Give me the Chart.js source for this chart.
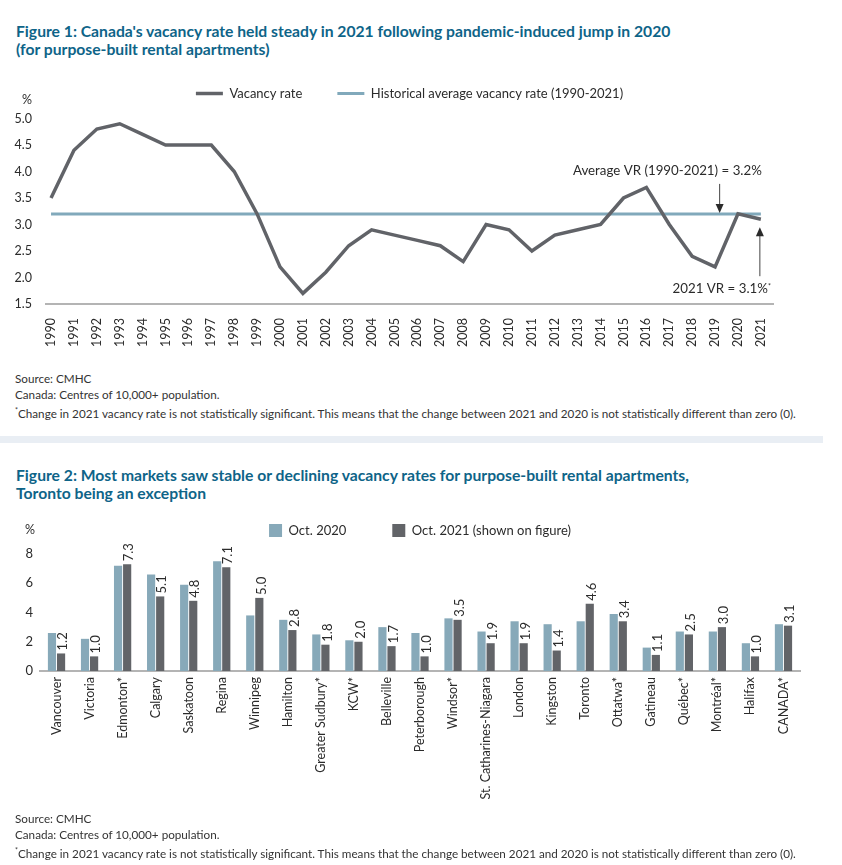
<!DOCTYPE html>
<html lang="en">

<head>
    <meta charset="UTF-8">
    <title>Vacancy rates</title>
    <script src="https://cdn.jsdelivr.net/npm/chart.js"></script>
    <style>
        body {
            margin: 0;
            width: 842px;
            height: 865px;
            position: relative;
            overflow: hidden;
            background: #fff;
            font-family: Lato, sans-serif;
            color: #333;
        }

        .title {
            position: absolute;
            left: 16px;
            margin: 0;
            color: #0e6488;
            font-size: 15.7px;
            font-weight: bold;
            line-height: 18px;
        }

        .notes {
            position: absolute;
            left: 15px;
            font-family: Lato, sans-serif;
            font-size: 11.7px;
            line-height: 16px;
            color: #333;
        }

        .notes sup {
            font-size: 7px;
        }

        .sep {
            position: absolute;
            left: 0;
            top: 436px;
            width: 823px;
            height: 7px;
            background: #e9eef4;
        }

        .box {
            position: absolute;
            left: 0;
            width: 842px;
        }
    </style>
</head>

<body>
    <h2 class="title" style="top: 22px;">Figure 1: Canada's vacancy rate held steady in 2021 following pandemic-induced jump in 2020<br>(for purpose-built rental apartments)</h2>
    <div class="box" style="top: 52px; height: 300px;"><canvas id="rateChart" width="842" height="300"></canvas></div>
    <div class="notes" style="top: 370px;">
        Source: CMHC<br>
        Canada: Centres of 10,000+ population.<br>
        <sup>*</sup>Change in 2021 vacancy rate is not statistically significant. This means that the change between 2021 and 2020 is not statistically different than zero (0).
    </div>

    <div class="sep"></div>

    <h2 class="title" style="top: 466px;">Figure 2: Most markets saw stable or declining vacancy rates for purpose-built rental apartments,<br>Toronto being an exception</h2>
    <div class="box" style="top: 478px; height: 335px;"><canvas id="marketChart" width="842" height="335"></canvas></div>
    <div class="notes" style="top: 810px;">
        Source: CMHC<br>
        Canada: Centres of 10,000+ population.<br>
        <sup>*</sup>Change in 2021 vacancy rate is not statistically significant. This means that the change between 2021 and 2020 is not statistically different than zero (0).
    </div>

    <script>
        // Figure 1
        const years = [1990, 1991, 1992, 1993, 1994, 1995, 1996, 1997, 1998, 1999, 2000, 2001, 2002, 2003, 2004, 2005,
            2006, 2007, 2008, 2009, 2010, 2011, 2012, 2013, 2014, 2015, 2016, 2017, 2018, 2019, 2020, 2021];
        const vacancyRate = [3.5, 4.4, 4.8, 4.9, 4.7, 4.5, 4.5, 4.5, 4.0, 3.2, 2.2, 1.7, 2.1, 2.6, 2.9, 2.8,
            2.7, 2.6, 2.3, 3.0, 2.9, 2.5, 2.8, 2.9, 3.0, 3.5, 3.7, 3.0, 2.4, 2.2, 3.2, 3.1];
        const avgRate = 3.2;
        const rateTicks = [1.5, 2.0, 2.5, 3.0, 3.5, 4.0, 4.5, 5.0];

        // Figure 2
        const markets = ['Vancouver', 'Victoria', 'Edmonton*', 'Calgary', 'Saskatoon', 'Regina', 'Winnipeg', 'Hamilton',
            'Greater Sudbury*', 'KCW*', 'Belleville', 'Peterborough', 'Windsor*', 'St. Catharines-Niagara', 'London',
            'Kingston', 'Toronto', 'Ottatwa*', 'Gatineau', 'Québec*', 'Montréal*', 'Halifax', 'CANADA*'];
        const oct2020 = [2.6, 2.2, 7.2, 6.6, 5.9, 7.5, 3.8, 3.5, 2.5, 2.1, 3.0, 2.6, 3.6, 2.7, 3.4, 3.2, 3.4, 3.9, 1.6, 2.7, 2.7, 1.9, 3.2];
        const oct2021 = [1.2, 1.0, 7.3, 5.1, 4.8, 7.1, 5.0, 2.8, 1.8, 2.0, 1.7, 1.0, 3.5, 1.9, 1.9, 1.4, 4.6, 3.4, 1.1, 2.5, 3.0, 1.0, 3.1];
        const marketTicks = [0, 2, 4, 6, 8];

        const textColor = '#2b2b2b';
        const axisColor = '#b4b4b4';

        function drawArrow(ctx, x, yFrom, yTo) {
            const dir = yTo > yFrom ? 1 : -1;
            ctx.beginPath();
            ctx.moveTo(x, yFrom);
            ctx.lineTo(x, yTo - dir * 8);
            ctx.stroke();
            ctx.beginPath();
            ctx.moveTo(x, yTo);
            ctx.lineTo(x - 4, yTo - dir * 9);
            ctx.lineTo(x + 4, yTo - dir * 9);
            ctx.closePath();
            ctx.fill();
        }

        // "%" unit over the y axis and the two callouts
        const rateNotes = {
            id: 'rateNotes',
            afterDraw(chart) {
                const { ctx, scales: { x, y } } = chart;
                ctx.save();
                ctx.fillStyle = textColor;
                ctx.strokeStyle = '#444';
                ctx.lineWidth = 1;
                ctx.font = '12.5px Lato';
                ctx.textAlign = 'center';
                ctx.textBaseline = 'middle';
                ctx.fillText('%', 27, y.getPixelForValue(5.0) - 19);

                const first = years[0], last = years[years.length - 1];
                const avgY = y.getPixelForValue(avgRate);
                const ax = x.getPixelForValue(2019.2);
                drawArrow(ctx, ax, avgY - 30, avgY - 1);
                ctx.font = '13.3px Lato';
                ctx.textAlign = 'right';
                ctx.textBaseline = 'alphabetic';
                ctx.fillText(`Average VR (${first}-${last}) = ${avgRate.toFixed(1)}%`, x.getPixelForValue(last) + 1, avgY - 39);

                const lastY = y.getPixelForValue(vacancyRate[vacancyRate.length - 1]);
                const lx = x.getPixelForValue(last) - 1;
                drawArrow(ctx, lx, lastY + 57, lastY + 8);
                ctx.font = '7px Lato';
                ctx.fillText('*', x.getPixelForValue(last) + 10, lastY + 70);
                const starW = ctx.measureText('*').width;
                ctx.font = '13.3px Lato';
                ctx.fillText(`${last} VR = ${vacancyRate[vacancyRate.length - 1].toFixed(1)}%`, x.getPixelForValue(last) + 10 - starW, lastY + 74);
                ctx.restore();
            }
        };

        new Chart(document.getElementById('rateChart'), {
            type: 'line',
            data: {
                datasets: [
                    {
                        label: 'Vacancy rate',
                        data: years.map((yr, i) => ({ x: yr, y: vacancyRate[i] })),
                        borderColor: '#616368',
                        backgroundColor: '#616368',
                        borderWidth: 3.5,
                        pointRadius: 0,
                        tension: 0
                    },
                    {
                        label: 'Historical average vacancy rate (1990-2021)',
                        data: years.map(yr => ({ x: yr, y: avgRate })),
                        borderColor: '#81a9bb',
                        backgroundColor: '#81a9bb',
                        borderWidth: 3,
                        pointRadius: 0
                    }
                ]
            },
            options: {
                responsive: false,
                animation: false,
                layout: { padding: { left: 0, right: 69, top: 0, bottom: 0 } },
                plugins: {
                    tooltip: { enabled: false },
                    legend: {
                        fullSize: false,
                        labels: {
                            usePointStyle: true,
                            pointStyle: 'line',
                            pointStyleWidth: 27,
                            padding: 35,
                            color: textColor,
                            font: { family: 'Lato', size: 13 }
                        }
                    }
                },
                scales: {
                    x: {
                        type: 'linear',
                        min: 1989.78,
                        max: 2021.53,
                        grid: { display: false, drawTicks: false },
                        border: { color: axisColor, width: 2 },
                        afterBuildTicks: scale => { scale.ticks = years.map(v => ({ value: v })); },
                        afterFit: scale => { scale.height = 48; },
                        ticks: {
                            minRotation: 90,
                            maxRotation: 90,
                            padding: 14,
                            color: textColor,
                            font: { family: 'Lato', size: 12.5 },
                            callback: v => String(v)
                        }
                    },
                    y: {
                        min: 1.5,
                        max: 5.16,
                        grid: { display: false, drawTicks: false },
                        border: { display: false },
                        afterBuildTicks: scale => { scale.ticks = rateTicks.map(v => ({ value: v })); },
                        afterFit: scale => { scale.width = 46; },
                        ticks: {
                            padding: 14,
                            color: textColor,
                            font: { family: 'Lato', size: 12.5 },
                            callback: v => v.toFixed(1)
                        }
                    }
                }
            },
            plugins: [rateNotes]
        });

        // "%" unit and the rotated Oct. 2021 values above the dark bars
        const marketNotes = {
            id: 'marketNotes',
            afterDraw(chart) {
                const { ctx, scales: { y } } = chart;
                ctx.save();
                ctx.fillStyle = textColor;
                ctx.font = '12.5px Lato';
                ctx.textAlign = 'center';
                ctx.textBaseline = 'middle';
                ctx.fillText('%', 30, y.getPixelForValue(8) - 24);

                ctx.font = '13px Lato';
                ctx.textAlign = 'left';
                chart.getDatasetMeta(1).data.forEach((bar, i) => {
                    ctx.save();
                    ctx.translate(bar.x + 2, bar.y - 3);
                    ctx.rotate(-Math.PI / 2);
                    ctx.fillText(oct2021[i].toFixed(1), 0, 0);
                    ctx.restore();
                });
                ctx.restore();
            }
        };

        new Chart(document.getElementById('marketChart'), {
            type: 'bar',
            data: {
                labels: markets,
                datasets: [
                    {
                        label: 'Oct. 2020',
                        data: oct2020,
                        backgroundColor: '#87a9b9',
                        categoryPercentage: 0.55,
                        barPercentage: 0.9
                    },
                    {
                        label: 'Oct. 2021 (shown on figure)',
                        data: oct2021,
                        backgroundColor: '#626468',
                        categoryPercentage: 0.55,
                        barPercentage: 0.9
                    }
                ]
            },
            options: {
                responsive: false,
                animation: false,
                layout: { padding: { left: 0, right: 42, top: 0, bottom: 0 } },
                plugins: {
                    tooltip: { enabled: false },
                    legend: {
                        fullSize: false,
                        labels: {
                            boxWidth: 13,
                            boxHeight: 13,
                            padding: 46,
                            color: textColor,
                            font: { family: 'Lato', size: 13 }
                        }
                    }
                },
                scales: {
                    x: {
                        grid: { display: false, drawTicks: false },
                        border: { color: axisColor, width: 2 },
                        afterFit: scale => { scale.height = 142; },
                        ticks: {
                            minRotation: 90,
                            maxRotation: 90,
                            autoSkip: false,
                            padding: 6,
                            color: textColor,
                            font: { family: 'Lato', size: 12.5 }
                        }
                    },
                    y: {
                        min: 0,
                        max: 8.48,
                        grid: { display: false, drawTicks: false },
                        border: { display: false },
                        afterBuildTicks: scale => { scale.ticks = marketTicks.map(v => ({ value: v })); },
                        afterFit: scale => { scale.width = 40; },
                        ticks: {
                            padding: 7,
                            color: textColor,
                            font: { family: 'Lato', size: 13 }
                        }
                    }
                }
            },
            plugins: [marketNotes]
        });
    </script>
</body>

</html>
